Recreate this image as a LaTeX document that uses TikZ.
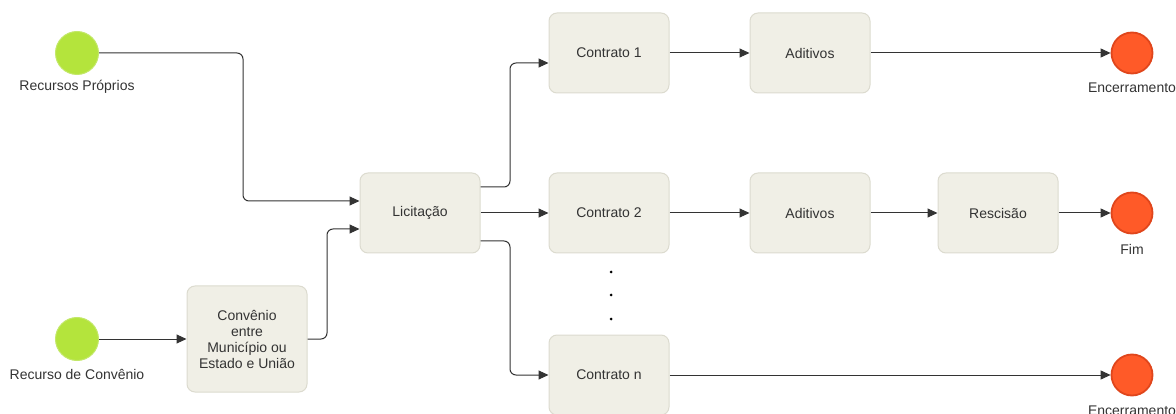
\documentclass[tikz,border=0pt]{standalone}
\usepackage{fontspec}
\setmainfont{Liberation Sans}
\usetikzlibrary{arrows.meta,positioning}
\definecolor{boxfill}{HTML}{F0EFE6}
\definecolor{boxline}{HTML}{DCDBCF}
\definecolor{startfill}{HTML}{B4E43C}
\definecolor{startline}{HTML}{C3E86A}
\definecolor{endfill}{HTML}{FF5A28}
\definecolor{endline}{HTML}{E0461C}
\definecolor{flow}{HTML}{333333}
\definecolor{txt}{HTML}{333333}
\tikzset{
  task/.style={draw=boxline, line width=1pt, fill=boxfill, rounded corners=8pt,
    minimum width=120pt, minimum height=80pt, text=txt, align=center,
    font=\fontsize{14}{16}\selectfont, inner sep=2pt},
  startev/.style={circle, draw=startline, line width=1pt, fill=startfill, minimum size=43pt, inner sep=0pt},
  endev/.style={circle, draw=endline, line width=1.8pt, fill=endfill, minimum size=41pt, inner sep=0pt},
  lbl/.style={text=txt, font=\fontsize{14}{16}\selectfont, inner sep=0pt},
  seq/.style={draw=flow, line width=1pt, rounded corners=6pt,
    -{Triangle[length=10pt,width=9pt]}},
  dot/.style={circle, fill=black, minimum size=3pt, inner sep=0pt}
}
\begin{document}
\begin{tikzpicture}[x=1pt,y=-1pt]
\useasboundingbox (0,0) rectangle (1176,414);

% start events
\node[startev] (s1) at (77,53) {};
\node[lbl] (s1l) at (77,87) {Recursos Próprios};
\node[startev] (s2) at (77,339) {};
\node[lbl] (s2l) at (77,374) {Recurso de Convênio};

% tasks
\node[task, minimum height=106pt] (conv) at (247,339) {Convênio\\entre\\Município ou\\Estado e União};
\node[task] (lic) at (420,213) {Licitação};
\node[task] (c1) at (609,53) {Contrato 1};
\node[task] (a1) at (810,53) {Aditivos};
\node[task] (c2) at (609,213) {Contrato 2};
\node[task] (a2) at (810,213) {Aditivos};
\node[task] (res) at (998,213) {Rescisão};
\node[task] (cn) at (609,375) {Contrato n};

% ellipsis between contracts
\node[dot] (d1) at (611,272) {};
\node[dot] (d2) at (611,295) {};
\node[dot] (d3) at (611,319) {};

% end events
\node[endev] (e1) at (1132,53) {};
\node[lbl] (e1l) at (1132,88) {Encerramento};
\node[endev] (e2) at (1132,213) {};
\node[lbl] (e2l) at (1132,249) {Fim};
\node[endev] (e3) at (1132,375) {};
\node[lbl] (e3l) at (1132,411) {Encerramento};

% sequence flows
\draw[seq] (s1.east) -| (243,201) -- (lic.west |- 0,201);
\draw[seq] (s2.east) -- (conv.west);
\draw[seq] (conv.east) -| (327,229) -- (lic.west |- 0,229);
\draw[seq] (lic.east |- 0,187) -| (510,63) -- (c1.west |- 0,63);
\draw[seq] (lic.east) -- (c2.west);
\draw[seq] (lic.east |- 0,241) -| (510,375) -- (cn.west);
\draw[seq] (c1.east) -- (a1.west);
\draw[seq] (a1.east) -- (e1.west);
\draw[seq] (c2.east) -- (a2.west);
\draw[seq] (a2.east) -- (res.west);
\draw[seq] (res.east) -- (e2.west);
\draw[seq] (cn.east) -- (e3.west);
\end{tikzpicture}
\end{document}
